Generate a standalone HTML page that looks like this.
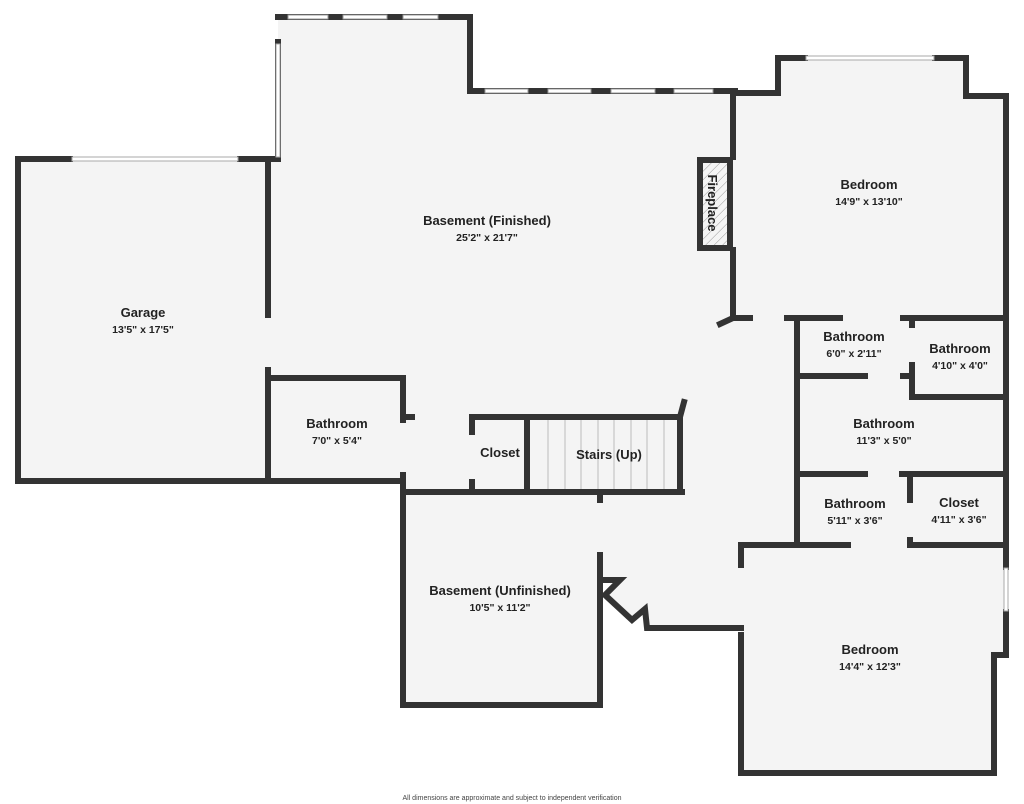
<!DOCTYPE html>
<html><head><meta charset="utf-8"><style>
html,body{margin:0;padding:0;background:#fff;}
svg{display:block}
text{font-family:"Liberation Sans",sans-serif;fill:#222;text-anchor:middle}
.n{font-weight:bold;font-size:13px}
.d{font-weight:bold;font-size:10.5px}
</style></head><body>
<svg width="1024" height="804" viewBox="0 0 1024 804" xmlns="http://www.w3.org/2000/svg">
<defs>
<pattern id="h" width="6" height="6" patternUnits="userSpaceOnUse" patternTransform="rotate(45)">
<rect width="6" height="6" fill="#f4f4f4"/><line x1="0" y1="0" x2="0" y2="6" stroke="#999" stroke-width="1"/>
</pattern>
</defs>
<g fill="#f4f4f4">
<rect x="18" y="159" width="250" height="322"/>
<rect x="278" y="17" width="192" height="145"/>
<rect x="278" y="91" width="456" height="70"/>
<rect x="268" y="159" width="466" height="322"/>
<rect x="403" y="480" width="330" height="12"/>
<polygon points="600,318 741,318 741,628 647,628 645,609 632,620 605,595 620,580 600,580"/>
<rect x="733" y="93" width="273" height="452"/>
<rect x="778" y="58" width="188" height="40"/>
<rect x="741" y="545" width="253" height="228"/>
<rect x="990" y="545" width="16" height="110"/>
<rect x="403" y="492" width="197" height="213"/>
</g>
<g stroke="#333" stroke-width="6" fill="none" stroke-linecap="square">
<polyline points="70,159 18,159 18,481 403,481"/>
<polyline points="240,159 278,159 278,42"/>
<line x1="268" y1="159" x2="268" y2="315"/>
<line x1="268" y1="370" x2="268" y2="481"/>
<polyline points="278,17 470,17 470,91 735,91"/>
<line x1="733" y1="91" x2="733" y2="157"/>
<line x1="733" y1="250" x2="733" y2="318"/>
<polyline points="735,93 778,93 778,58 805,58"/>
<polyline points="935,58 966,58 966,96 1006,96 1006,567"/>
<line x1="1006" y1="612" x2="1006" y2="655"/>
<polyline points="1006,655 994,655 994,773 741,773 741,635"/>
<line x1="741" y1="565" x2="741" y2="545"/>
<polyline points="268,378 403,378 403,420"/>
<line x1="403" y1="417" x2="412" y2="417"/>
<line x1="403" y1="475" x2="403" y2="705"/>
<polyline points="403,705 600,705 600,555"/>
<line x1="600" y1="500" x2="600" y2="495"/>
<line x1="403" y1="492" x2="682" y2="492"/>
<polyline points="472,432 472,417 680,417 680,492"/>
<line x1="472" y1="482" x2="472" y2="492"/>
<line x1="527" y1="417" x2="527" y2="492"/>
<line x1="680" y1="417" x2="684" y2="402"/>
<polyline points="600,580 620,580 605,595 632,620 645,609 647,628 741,628" stroke-linejoin="miter"/>
<line x1="733" y1="318" x2="750" y2="318"/>
<line x1="733" y1="318" x2="720" y2="324"/>
<line x1="787" y1="318" x2="840" y2="318"/>
<line x1="903" y1="318" x2="1006" y2="318"/>
<line x1="797" y1="318" x2="797" y2="545"/>
<line x1="797" y1="376" x2="865" y2="376"/>
<line x1="903" y1="376" x2="912" y2="376"/>
<line x1="912" y1="318" x2="912" y2="325"/>
<polyline points="912,365 912,397 1006,397"/>
<line x1="797" y1="474" x2="865" y2="474"/>
<line x1="902" y1="474" x2="1006" y2="474"/>
<line x1="910" y1="474" x2="910" y2="500"/>
<polyline points="910,540 910,545 1006,545"/>
<polyline points="741,565 741,545 848,545"/>
</g>
<g fill="#fff" stroke="#aaa" stroke-width="1">
<rect x="72" y="157" width="166" height="4"/>
<rect x="806" y="56" width="128" height="4"/>
<rect x="1004" y="568" width="4" height="43"/>
<rect x="276" y="44" width="4" height="113"/>
</g>
<g stroke="#333" stroke-width="6">
<line x1="276" y1="17" x2="286" y2="17"/><line x1="331" y1="17" x2="340" y2="17"/><line x1="390" y1="17" x2="400" y2="17"/><line x1="440" y1="17" x2="470" y2="17"/>
<line x1="470" y1="91" x2="483" y2="91"/><line x1="530" y1="91" x2="546" y2="91"/><line x1="593" y1="91" x2="609" y2="91"/><line x1="657" y1="91" x2="672" y2="91"/><line x1="715" y1="91" x2="736" y2="91"/>
</g>
<g fill="#fff" stroke="#999" stroke-width="1">
<rect x="288" y="15" width="40" height="4"/><rect x="343" y="15" width="44" height="4"/><rect x="403" y="15" width="35" height="4"/>
<rect x="485" y="89" width="43" height="4"/><rect x="548" y="89" width="43" height="4"/><rect x="611" y="89" width="44" height="4"/><rect x="674" y="89" width="39" height="4"/>
</g>
<g stroke="#bbb" stroke-width="1">
<line x1="548" y1="420" x2="548" y2="489"/><line x1="565" y1="420" x2="565" y2="489"/><line x1="581" y1="420" x2="581" y2="489"/><line x1="598" y1="420" x2="598" y2="489"/><line x1="614" y1="420" x2="614" y2="489"/><line x1="631" y1="420" x2="631" y2="489"/><line x1="647" y1="420" x2="647" y2="489"/><line x1="664" y1="420" x2="664" y2="489"/>
</g>
<rect x="700" y="160" width="30" height="88" fill="url(#h)" stroke="#333" stroke-width="6"/>
<text class="n" transform="translate(712,203) rotate(90)" dy="4">Fireplace</text>
<text class="n" x="143" y="317">Garage</text><text class="d" x="143" y="333">13'5" x 17'5"</text>
<text class="n" x="487" y="225">Basement (Finished)</text><text class="d" x="487" y="241">25'2" x 21'7"</text>
<text class="n" x="869" y="189">Bedroom</text><text class="d" x="869" y="205">14'9" x 13'10"</text>
<text class="n" x="337" y="428">Bathroom</text><text class="d" x="337" y="444">7'0" x 5'4"</text>
<text class="n" x="500" y="457">Closet</text>
<text class="n" x="609" y="459">Stairs (Up)</text>
<text class="n" x="500" y="595">Basement (Unfinished)</text><text class="d" x="500" y="611">10'5" x 11'2"</text>
<text class="n" x="854" y="341">Bathroom</text><text class="d" x="854" y="357">6'0" x 2'11"</text>
<text class="n" x="960" y="353">Bathroom</text><text class="d" x="960" y="369">4'10" x 4'0"</text>
<text class="n" x="884" y="428">Bathroom</text><text class="d" x="884" y="444">11'3" x 5'0"</text>
<text class="n" x="855" y="508">Bathroom</text><text class="d" x="855" y="524">5'11" x 3'6"</text>
<text class="n" x="959" y="507">Closet</text><text class="d" x="959" y="523">4'11" x 3'6"</text>
<text class="n" x="870" y="654">Bedroom</text><text class="d" x="870" y="670">14'4" x 12'3"</text>
<text x="512" y="800" style="font-size:7px;fill:#444">All dimensions are approximate and subject to independent verification</text>
</svg>
</body></html>
